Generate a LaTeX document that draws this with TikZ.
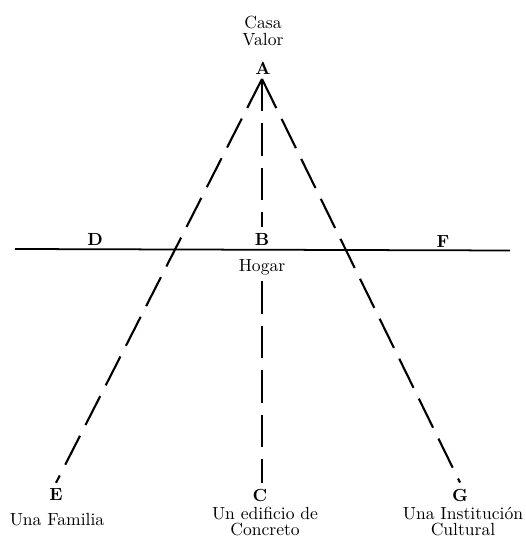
\documentclass[tikz,border=0pt]{standalone}
\usepackage{amsmath,amssymb}
\usepackage{tikz}
\usetikzlibrary{calc}
\newcommand{\lt}[1]{\textbf{#1}}
\tikzset{raya/.style={line width=1.2pt,dash pattern=on 0.65cm off 0.24cm}}

\begin{document}
\begin{tikzpicture}
	%	\draw[help lines] (0,0) grid (10.5,10.74);
	\useasboundingbox (0,0) rectangle (10.5,10.74);

		\node (valor) at (5.26,10.12) [align=center]{Casa\\[-2pt]Valor};
		\node (A) at (5.26,9.38){\lt{A}};
		\coordinate (apex) at (5.24,9.16);

		\node (D) at (1.9,5.96){\lt{D}};
		\node (B) at (5.24,5.96){\lt{B}};
		\node (F) at (8.86,5.9){\lt{F}};
		\node (hogar) at (5.24,5.4){Hogar};
		\coordinate (izq) at (0.3,5.76);
		\coordinate (der) at (10.2,5.73);

		\node (E) at (1.12,0.84){\lt{E}};
		\node (C) at (5.2,0.84){\lt{C}};
		\node (G) at (9.2,0.84){\lt{G}};
		\node (fam) at (1.14,0.34){Una Familia};
		\node (edif) at (5.3,0.31)[align=center]{Un edificio de\\[-3pt]Concreto};
		\node (inst) at (9.26,0.31)[align=center]{Una Instituci\'on\\[-3pt]Cultural};

		\draw[line width=1pt] (izq) to (der);

		\draw[raya] (apex) to (E.north);
		\draw[raya] (apex) to (G.north);
		\draw[raya] (apex) to (B.north);
		\draw[raya] (hogar.south) to (hogar.south |- C.north);

\end{tikzpicture}
\end{document}
